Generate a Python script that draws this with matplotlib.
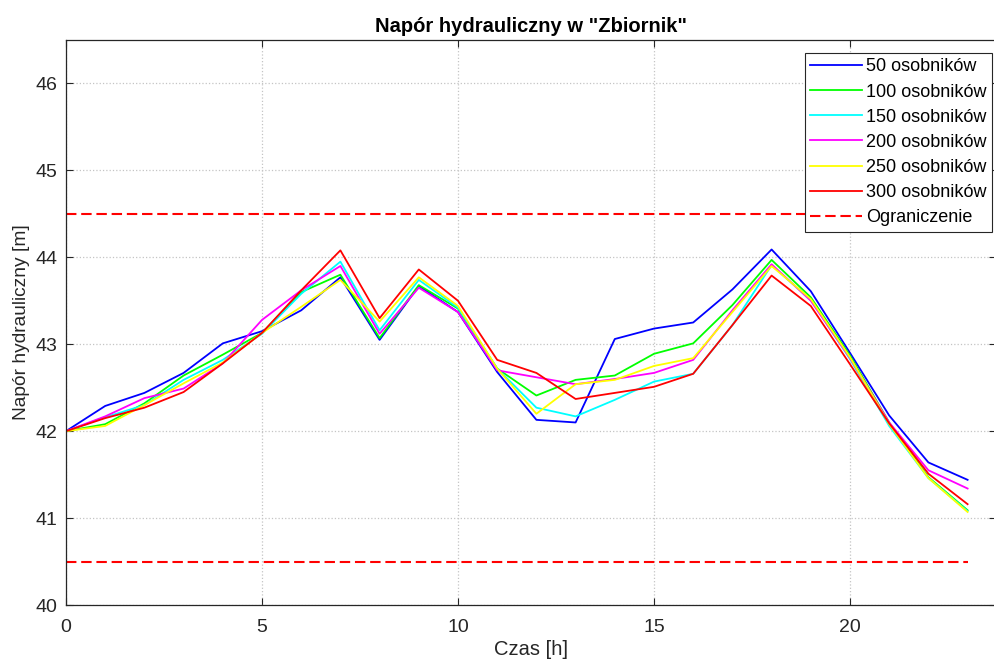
import numpy as np
import matplotlib
matplotlib.use('Agg')
import matplotlib.pyplot as plt

plt.rcParams['font.family'] = ['Liberation Sans', 'DejaVu Sans']

# czas [h]
hours = list(range(24))

# napór hydrauliczny dla kolejnych liczebności populacji
h_50 = [42.00, 42.29, 42.44, 42.67, 43.01, 43.15, 43.39, 43.77, 43.05, 43.67, 43.37, 42.68,
        42.13, 42.10, 43.06, 43.18, 43.25, 43.63, 44.09, 43.61, 42.90, 42.18, 41.64, 41.44]
h_100 = [42.00, 42.08, 42.32, 42.64, 42.88, 43.13, 43.60, 43.80, 43.07, 43.68, 43.41, 42.72,
         42.41, 42.59, 42.64, 42.89, 43.01, 43.45, 43.97, 43.54, 42.87, 42.10, 41.47, 41.09]
h_150 = [42.00, 42.16, 42.30, 42.59, 42.82, 43.12, 43.58, 43.95, 43.16, 43.74, 43.42, 42.72,
         42.27, 42.17, 42.36, 42.57, 42.66, 43.22, 43.91, 43.51, 42.83, 42.06, 41.46, 41.08]
h_200 = [42.00, 42.17, 42.38, 42.49, 42.78, 43.28, 43.62, 43.90, 43.12, 43.65, 43.37, 42.70,
         42.62, 42.54, 42.60, 42.67, 42.82, 43.39, 43.92, 43.50, 42.84, 42.10, 41.55, 41.34]
h_250 = [42.00, 42.06, 42.30, 42.55, 42.79, 43.13, 43.43, 43.74, 43.26, 43.77, 43.44, 42.72,
         42.20, 42.54, 42.59, 42.75, 42.84, 43.37, 43.90, 43.52, 42.85, 42.08, 41.46, 41.07]
h_300 = [42.00, 42.15, 42.27, 42.45, 42.78, 43.13, 43.62, 44.08, 43.30, 43.86, 43.50, 42.82,
         42.67, 42.37, 42.44, 42.51, 42.66, 43.22, 43.79, 43.44, 42.77, 42.09, 41.51, 41.16]

series = [h_50, h_100, h_150, h_200, h_250, h_300]
labels = ['50 osobników', '100 osobników', '150 osobników', '200 osobników',
          '250 osobników', '300 osobników']
colors = ['#0000ff', '#00ff00', '#00ffff', '#ff00ff', '#ffff00', '#ff0000']

# ograniczenia
h_min = 40.5
h_max = 44.5

fig = plt.figure(figsize=(9.94, 6.68), dpi=100)
ax = fig.add_axes([66/994, 63/668, (996-66)/994, 565/668])

for y, lab, c in zip(series, labels, colors):
    ax.plot(hours, y, color=c, lw=1.3, label=lab)

ax.plot([hours[0], hours[-1]], [h_max, h_max], color='#ff0000', lw=1.5,
        linestyle=(0, (5, 2.3)), label='Ograniczenie')
ax.plot([hours[0], hours[-1]], [h_min, h_min], color='#ff0000', lw=1.5,
        linestyle=(0, (5, 2.3)))

ax.set_xlim(0, (996-66)/39.2)
ax.set_ylim(40, 46.5)
ax.set_xticks([0, 5, 10, 15, 20])
ax.set_yticks([40, 41, 42, 43, 44, 45, 46])
ax.grid(True, color='#c4c4c4', linestyle=':', lw=0.9)
ax.tick_params(direction='in', length=5, width=0.8, labelsize=14, colors='#262626',
               top=True, right=True)
ax.tick_params(axis='x', pad=10)
ax.tick_params(axis='y', pad=6)
for s in ax.spines.values():
    s.set_color('#262626')
    s.set_linewidth(0.9)

ax.set_xlabel('Czas [h]', fontsize=14.5, color='#262626', labelpad=3)
ax.set_ylabel('Napór hydrauliczny [m]', fontsize=13.8, color='#262626', labelpad=4)
ax.set_title('Napór hydrauliczny w "Zbiornik"', fontsize=14.5, fontweight='bold',
             family=['Liberation Sans Narrow', 'Liberation Sans'], pad=6)

leg = ax.legend(loc='upper right', bbox_to_anchor=(992/994, 615/668),
                bbox_transform=fig.transFigure, borderaxespad=0, fontsize=13,
                fancybox=False, framealpha=1, edgecolor='#262626',
                handlelength=2.85, handletextpad=0.25, labelspacing=0.45,
                borderpad=0.3)
leg.get_frame().set_linewidth(0.8)

fig.savefig('out.png', dpi=100)
